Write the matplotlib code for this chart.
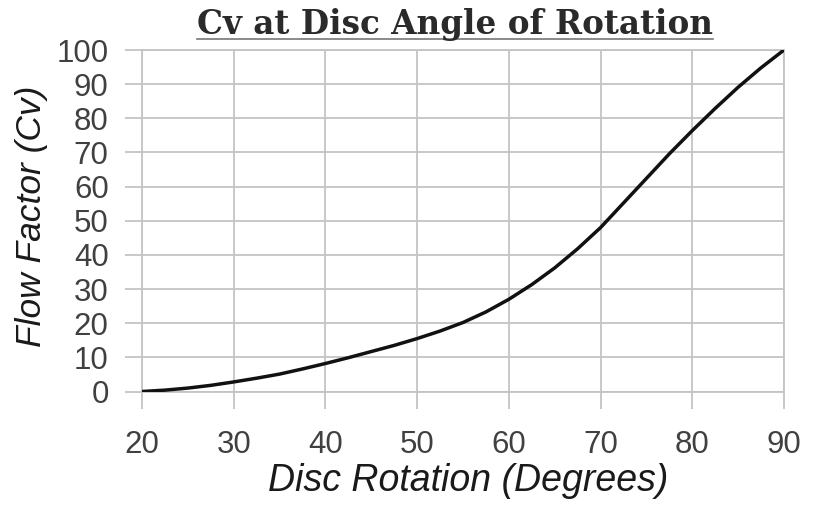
import matplotlib
matplotlib.use("Agg")
import matplotlib.pyplot as plt
from matplotlib.lines import Line2D

# values
rotation = [20, 22.5, 25, 27.5, 30, 32.5, 35, 37.5, 40, 42.5, 45, 47.5, 50, 52.5,
            55, 57.5, 60, 62.5, 65, 67.5, 70, 72.5, 75, 77.5, 80, 82.5, 85, 87.5, 90]
cv = [0, 0.4, 1.0, 1.8, 2.8, 3.9, 5.1, 6.6, 8.2, 9.9, 11.7, 13.5, 15.5, 17.7,
      20.2, 23.3, 27.0, 31.3, 36.2, 41.8, 48.0, 55.2, 62.4, 69.6, 76.4, 82.9, 89.1, 94.8, 100]
xticks = [20, 30, 40, 50, 60, 70, 80, 90]
yticks = [0, 10, 20, 30, 40, 50, 60, 70, 80, 90, 100]

grid_c = "#c4c4c4"
text_c = "#404040"

fig = plt.figure(figsize=(8.18, 5.05), dpi=100)
ax = fig.add_axes([142 / 818, (505 - 391.5) / 505, (784 - 142) / 818, (391.5 - 50) / 505])

ax.plot(rotation, cv, color="#111111", lw=2.5, solid_capstyle="round",
        solid_joinstyle="round", zorder=3)

ax.set_xlim(20, 90)
ax.set_ylim(0, 100)
ax.set_xticks(xticks)
ax.set_yticks(yticks)
ax.grid(True, color=grid_c, lw=1.3)
for s in ax.spines.values():
    s.set_color(grid_c)
    s.set_linewidth(1.3)

ax.tick_params(axis="both", colors=grid_c, length=12, width=1.3, labelcolor=text_c,
               labelsize=22.5)
ax.tick_params(axis="x", pad=16)
ax.tick_params(axis="y", pad=12)
for lab in ax.get_xticklabels() + ax.get_yticklabels():
    lab.set_family("Liberation Sans")

ax.set_xlabel("Disc Rotation (Degrees)", fontsize=27, style="italic",
              family="Liberation Sans", color="#1a1a1a")
ax.xaxis.set_label_coords(0.508, -0.208)
ax.set_ylabel("Flow Factor (Cv)", fontsize=25.5, style="italic",
              family="Liberation Sans", color="#1a1a1a")
ax.yaxis.set_label_coords(-0.146, 0.514)

title = fig.text(0.556, 1 - 34 / 505, "Cv at Disc Angle of Rotation", ha="center",
                 va="baseline", fontsize=23.5, fontweight="bold",
                 family="DejaVu Serif", color="#2a2a2a")

# underline the title
fig.canvas.draw()
bb = title.get_window_extent().transformed(fig.transFigure.inverted())
uy = 1 - 38.5 / 505
fig.add_artist(Line2D([bb.x0, bb.x1], [uy, uy], transform=fig.transFigure,
                      color="#777777", lw=1.2))

fig.savefig("out.png", dpi=100)
